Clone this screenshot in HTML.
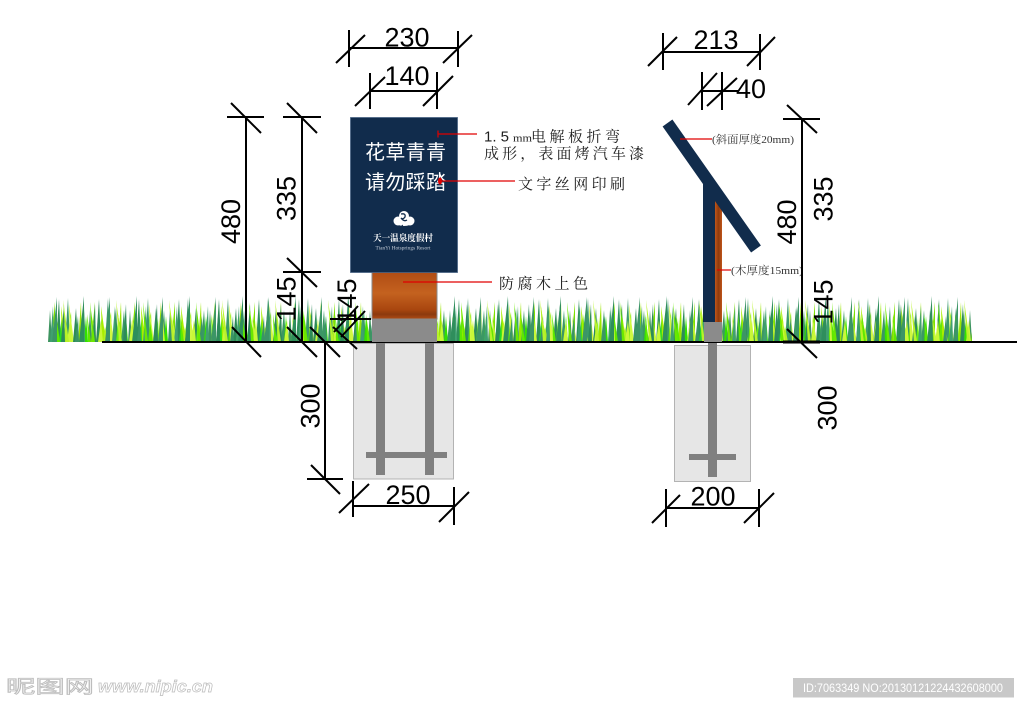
<!DOCTYPE html>
<html><head><meta charset="utf-8"><style>
html,body{margin:0;padding:0;background:#fff;}
svg{display:block;}
.n{font-family:"Liberation Sans",Arial,sans-serif;font-size:27px;fill:#000;}
.a{font-family:"Liberation Serif","Noto Serif CJK SC",serif;font-size:15px;fill:#1e1e1e;}
.s{font-family:"Liberation Serif","Noto Serif CJK SC",serif;font-size:11px;fill:#333;}
</style></head><body>
<svg width="1024" height="707" viewBox="0 0 1024 707" xmlns="http://www.w3.org/2000/svg">
<defs>
<pattern id="gA" patternUnits="userSpaceOnUse" x="48" y="296" width="40" height="46">
<polygon points="0,46 2,14 4,46" fill="#3d9460"/>
<polygon points="3,46 7,6 7,46" fill="#7ee000"/>
<polygon points="6,46 4,20 9,46" fill="#c6f53a"/>
<polygon points="8,46 11,3 13,46" fill="#2f8f5a"/>
<polygon points="11,46 14,18 15,46" fill="#22dd22"/>
<polygon points="14,46 13,10 18,46" fill="#a8ee00"/>
<polygon points="17,46 20,2 22,46" fill="#3a9a6a"/>
<polygon points="20,46 23,16 24,46" fill="#55e000"/>
<polygon points="22,46 21,8 26,46" fill="#d0f840"/>
<polygon points="25,46 28,12 30,46" fill="#2e8b57"/>
<polygon points="28,46 30,22 31,46" fill="#66ee11"/>
<polygon points="30,46 33,6 34,46" fill="#9ae600"/>
<polygon points="33,46 36,14 38,46" fill="#3b9863"/>
<polygon points="36,46 38,20 40,46" fill="#33e000"/>
<polygon points="15,46 17,30 20,46" fill="#b0f020"/>
</pattern>
<pattern id="gB" patternUnits="userSpaceOnUse" x="48" y="296" width="31" height="46">
<polygon points="2,46 5,10 6,46" fill="#40a070"/>
<polygon points="9,46 8,18 12,46" fill="#5ee800"/>
<polygon points="13,46 16,8 17,46" fill="#2d8a5a"/>
<polygon points="19,46 22,24 24,46" fill="#c8f838"/>
<polygon points="27,46 30,20 31,46" fill="#3a9466"/>
</pattern>
<pattern id="gC" patternUnits="userSpaceOnUse" x="48" y="296" width="53" height="46">
<polygon points="4,46 9,1 9,46" fill="#3c9566"/>
<polygon points="18,46 15,4 21,46" fill="#b8f22a"/>
<polygon points="31,46 36,0 36,46" fill="#2f8e5c"/>
<polygon points="44,46 42,6 47,46" fill="#6ae800"/>
</pattern>
<linearGradient id="wood" x1="0" y1="0" x2="0" y2="1">
<stop offset="0" stop-color="#b04c14"/>
<stop offset="0.45" stop-color="#c4621f"/>
<stop offset="0.8" stop-color="#a9460f"/>
<stop offset="0.9" stop-color="#8c3a0e"/>
<stop offset="1" stop-color="#b04c14"/>
</linearGradient>
<linearGradient id="wood2" x1="0" y1="0" x2="1" y2="0">
<stop offset="0" stop-color="#c0561a"/>
<stop offset="0.5" stop-color="#8f3a0c"/>
<stop offset="1" stop-color="#c0561a"/>
</linearGradient>
</defs>

<rect x="48" y="296" width="924" height="46" fill="url(#gA)"/>
<rect x="48" y="296" width="924" height="46" fill="url(#gB)"/>
<rect x="48" y="296" width="924" height="46" fill="url(#gC)"/>

<line x1="102" y1="342" x2="1017" y2="342" stroke="#000" stroke-width="2"/>

<rect x="353.5" y="343.5" width="100" height="135.5" fill="#e6e6e6" stroke="#b3b3b3" stroke-width="1"/>
<rect x="376" y="343" width="9" height="132" fill="#808080"/>
<rect x="425" y="343" width="9" height="132" fill="#808080"/>
<rect x="366" y="452" width="81" height="6" fill="#808080"/>

<rect x="674.5" y="345.5" width="76" height="136" fill="#e6e6e6" stroke="#b3b3b3" stroke-width="1"/>
<rect x="708" y="343" width="9" height="134" fill="#808080"/>
<rect x="689" y="454" width="47" height="6" fill="#808080"/>

<rect x="372" y="272" width="65" height="47" fill="url(#wood)" stroke="#8a8a8a" stroke-width="1"/>
<rect x="372" y="319" width="65" height="23" fill="#8b8b8b"/>
<rect x="350.5" y="117.5" width="107" height="155" fill="#112c4c" stroke="#4a6585" stroke-width="0.8"/>
<text x="365" y="159" textLength="81" lengthAdjust="spacing" style="font-family:'Liberation Sans','Noto Sans CJK SC',sans-serif;font-size:20px;fill:#fff;">花草青青</text>
<text x="365" y="189" textLength="81" lengthAdjust="spacing" style="font-family:'Liberation Sans','Noto Sans CJK SC',sans-serif;font-size:20px;fill:#fff;">请勿踩踏</text>
<g fill="#fff">
<circle cx="398" cy="221" r="4.5"/>
<circle cx="404" cy="216" r="5"/>
<circle cx="410" cy="221" r="4.5"/>
<ellipse cx="404" cy="222" rx="8" ry="4"/>
</g>
<path d="M401,214 q5,-1 4,3 q-2,3 -4,1 q3,4 6,2 M402,225 q2,3 -1,5" stroke="#112c4c" stroke-width="1.3" fill="none"/>
<text x="403" y="241" text-anchor="middle" textLength="60" lengthAdjust="spacingAndGlyphs" style="font-family:'Liberation Serif','Noto Serif CJK SC',serif;font-size:9px;fill:#fff;font-weight:bold;">天一温泉度假村</text>
<text x="403" y="249.5" text-anchor="middle" textLength="55" lengthAdjust="spacingAndGlyphs" style="font-family:'Liberation Serif',serif;font-size:5.5px;fill:#c4ccd6;">TianYi Hotsprings Resort</text>

<rect x="704" y="322" width="18" height="20" fill="#8b8b8b"/>
<rect x="715" y="198" width="7" height="124" fill="url(#wood2)"/>
<rect x="703" y="180" width="12" height="142" fill="#112c4c"/>
<polygon points="672.4,119.5 662.6,126.5 751.1,252.5 760.9,245.5" fill="#112c4c"/>

<g stroke="#e00000" stroke-width="1.2" fill="none">
<line x1="438" y1="134" x2="477" y2="134"/>
<line x1="438" y1="130.5" x2="438" y2="137.5"/>
<line x1="440" y1="181" x2="515" y2="181"/>
<line x1="403" y1="282" x2="492" y2="282"/>
<line x1="680" y1="139" x2="712" y2="139"/>
<line x1="717" y1="270" x2="731" y2="270"/>
</g>
<ellipse cx="440" cy="181" rx="2" ry="3.5" fill="#e00000"/>
<text class="a" x="484" y="141.5" style="font-family:'Liberation Sans',sans-serif;">1. 5</text>
<text class="a" x="513" y="141.5" style="font-size:11px;" textLength="19" lengthAdjust="spacingAndGlyphs">mm</text>
<text class="a" x="531" y="141.5" textLength="89" lengthAdjust="spacing">电解板折弯</text>
<text class="a" x="484" y="158.7" textLength="160" lengthAdjust="spacing">成形，表面烤汽车漆</text>
<text class="a" x="518" y="189" textLength="107" lengthAdjust="spacing">文字丝网印刷</text>
<text class="a" x="499" y="288.3" textLength="89" lengthAdjust="spacing">防腐木上色</text>
<text class="s" x="712" y="143" textLength="82" lengthAdjust="spacingAndGlyphs">(斜面厚度20mm)</text>
<text class="s" x="731" y="274" textLength="72" lengthAdjust="spacingAndGlyphs">(木厚度15mm)</text>

<g stroke="#000" stroke-width="2" fill="none">
<line x1="349" y1="48" x2="458" y2="48"/>
<line x1="349" y1="30" x2="349" y2="67"/>
<line x1="458" y1="31" x2="458" y2="67"/>
<line x1="336" y1="63" x2="365" y2="35"/>
<line x1="443" y1="63" x2="472" y2="35"/>
<line x1="370" y1="91" x2="437" y2="91"/>
<line x1="370" y1="73" x2="370" y2="109"/>
<line x1="437" y1="72" x2="437" y2="109"/>
<line x1="355" y1="106" x2="385" y2="77"/>
<line x1="423" y1="106" x2="453" y2="76"/>
<line x1="246" y1="117" x2="246" y2="342"/>
<line x1="227" y1="117" x2="264" y2="117"/>
<line x1="231" y1="103" x2="261" y2="133"/>
<line x1="232" y1="327" x2="261" y2="357"/>
<line x1="302" y1="117" x2="302" y2="342"/>
<line x1="283" y1="117" x2="321" y2="117"/>
<line x1="287" y1="103" x2="317" y2="133"/>
<line x1="283" y1="272" x2="321" y2="272"/>
<line x1="287" y1="258" x2="317" y2="287"/>
<line x1="287" y1="327" x2="317" y2="357"/>
<line x1="325" y1="342" x2="325" y2="479"/>
<line x1="307" y1="479" x2="343" y2="479"/>
<line x1="311" y1="465" x2="340" y2="494"/>
<line x1="310" y1="327" x2="340" y2="357"/>
<line x1="330" y1="319" x2="371" y2="319"/>
<line x1="333" y1="327" x2="357" y2="349"/>
<line x1="334" y1="332" x2="358" y2="306"/>
<line x1="341" y1="337" x2="365" y2="311"/>
<line x1="353" y1="506" x2="454" y2="506"/>
<line x1="353" y1="481" x2="353" y2="517"/>
<line x1="454" y1="487" x2="454" y2="525"/>
<line x1="339" y1="513" x2="369" y2="484"/>
<line x1="439" y1="522" x2="469" y2="492"/>
<line x1="666" y1="508" x2="759" y2="508"/>
<line x1="666" y1="489" x2="666" y2="527"/>
<line x1="759" y1="489" x2="759" y2="527"/>
<line x1="652" y1="523" x2="680" y2="495"/>
<line x1="744" y1="523" x2="774" y2="493"/>
<line x1="663" y1="52" x2="760" y2="52"/>
<line x1="663" y1="33" x2="663" y2="70"/>
<line x1="760" y1="34" x2="760" y2="70"/>
<line x1="648" y1="66" x2="677" y2="37"/>
<line x1="747" y1="66" x2="775" y2="37"/>
<line x1="702" y1="72" x2="702" y2="110"/>
<line x1="722" y1="72" x2="722" y2="110"/>
<line x1="702" y1="91" x2="738" y2="91"/>
<line x1="688" y1="105" x2="717" y2="73"/>
<line x1="707" y1="106" x2="737" y2="78"/>
<line x1="802" y1="119" x2="802" y2="342"/>
<line x1="783" y1="119" x2="820" y2="119"/>
<line x1="787" y1="105" x2="817" y2="133"/>
<line x1="787" y1="329" x2="817" y2="358"/>
</g>
<line x1="783" y1="342" x2="820" y2="342" stroke="#000" stroke-width="3"/>

<text class="n" x="407" y="46.5" text-anchor="middle">230</text>
<text class="n" x="407" y="85" text-anchor="middle">140</text>
<text class="n" x="716" y="49" text-anchor="middle">213</text>
<text class="n" x="736" y="98">40</text>
<text class="n" x="408" y="504" text-anchor="middle">250</text>
<text class="n" x="713" y="505.5" text-anchor="middle">200</text>
<text class="n" transform="translate(230.5,221.5) rotate(-90)" x="0" y="9.7" text-anchor="middle">480</text>
<text class="n" transform="translate(286,198.5) rotate(-90)" x="0" y="9.7" text-anchor="middle">335</text>
<text class="n" transform="translate(286,299) rotate(-90)" x="0" y="9.7" text-anchor="middle">145</text>
<text class="n" transform="translate(346.5,301) rotate(-90)" x="0" y="9.7" text-anchor="middle">145</text>
<text class="n" transform="translate(310,406) rotate(-90)" x="0" y="9.7" text-anchor="middle">300</text>
<text class="n" transform="translate(786.5,222) rotate(-90)" x="0" y="9.7" text-anchor="middle">480</text>
<text class="n" transform="translate(823,199) rotate(-90)" x="0" y="9.7" text-anchor="middle">335</text>
<text class="n" transform="translate(823,302) rotate(-90)" x="0" y="9.7" text-anchor="middle">145</text>
<text class="n" transform="translate(827,408) rotate(-90)" x="0" y="9.7" text-anchor="middle">300</text>

<text x="6" y="693" textLength="88" lengthAdjust="spacingAndGlyphs" style="font-family:'Liberation Sans','Noto Sans CJK SC',sans-serif;font-size:18px;fill:#fff;stroke:#bdbdbd;stroke-width:0.8;">昵图网</text>
<text x="98" y="692" textLength="115" lengthAdjust="spacingAndGlyphs" style="font-family:'Liberation Sans',sans-serif;font-size:17px;font-style:italic;font-weight:bold;fill:#fff;stroke:#bdbdbd;stroke-width:0.7;">www.nipic.cn</text>
<rect x="793" y="678" width="221" height="19.5" fill="#c8c8c8"/>
<text x="803" y="692" textLength="200" lengthAdjust="spacingAndGlyphs" style="font-family:'Liberation Sans',sans-serif;font-size:12px;fill:#fff;">ID:7063349 NO:20130121224432608000</text>
</svg>
</body></html>
